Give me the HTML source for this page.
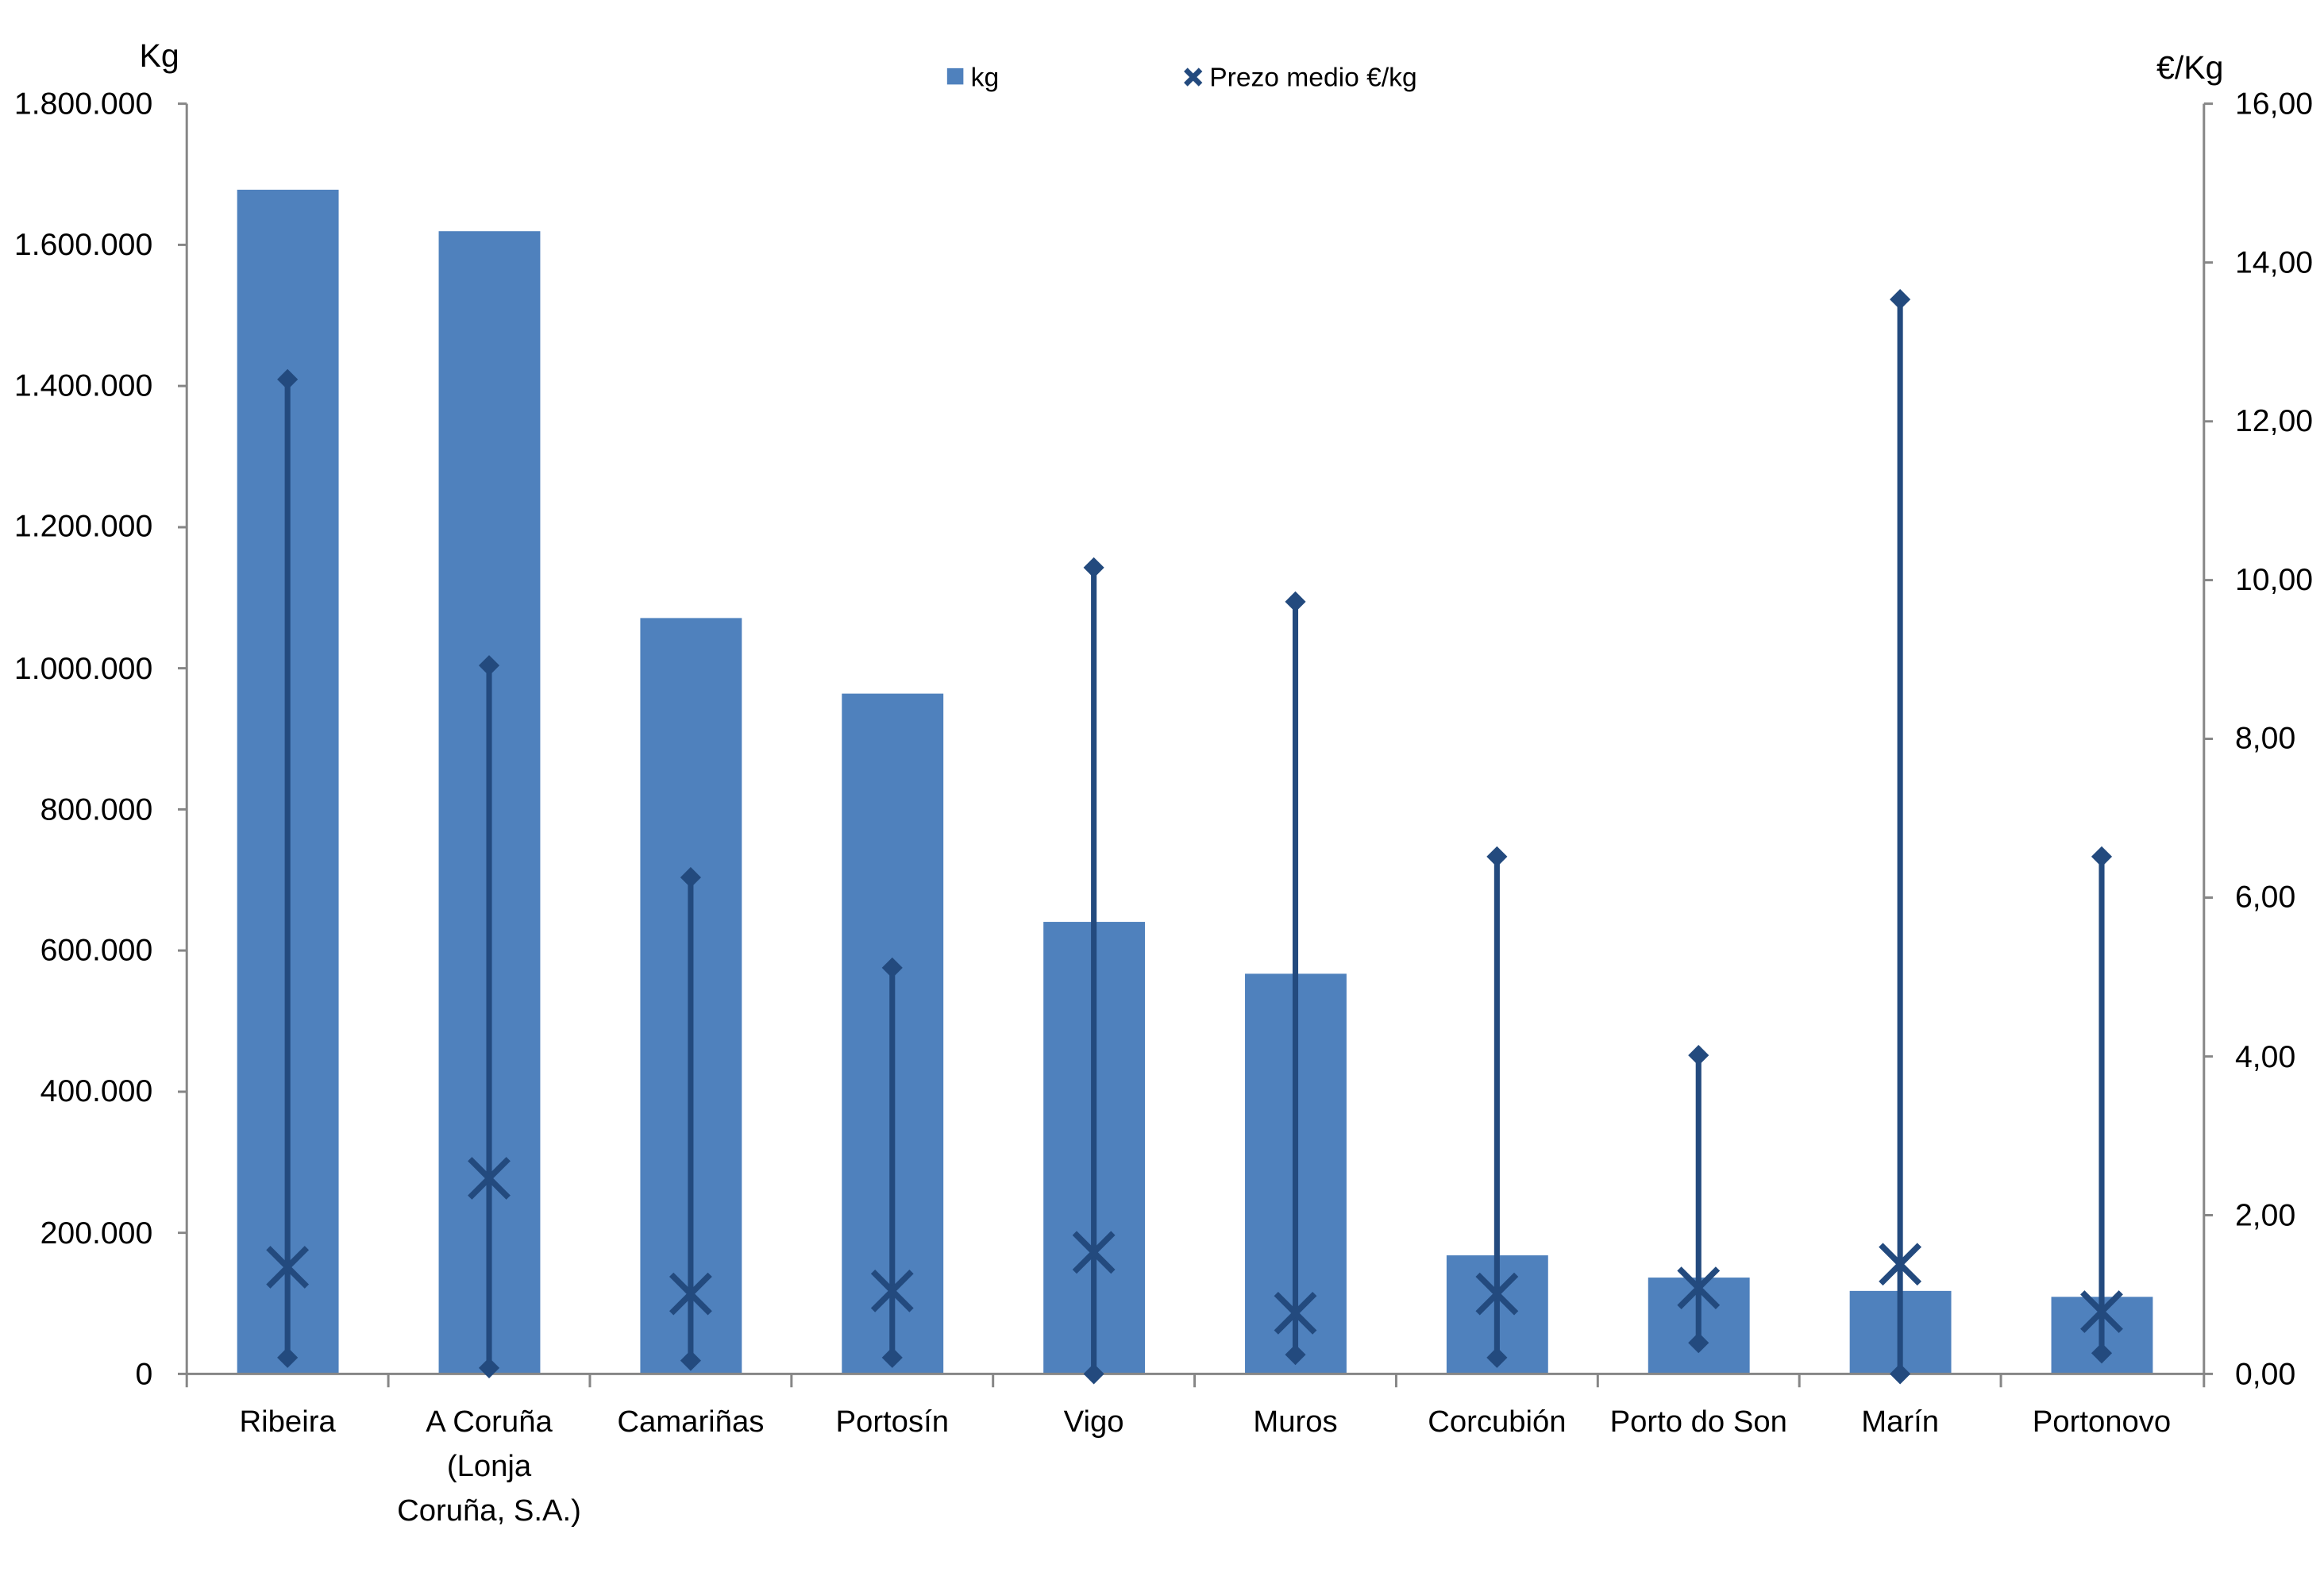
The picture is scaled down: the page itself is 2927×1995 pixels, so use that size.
<!DOCTYPE html>
<html><head><meta charset="utf-8"><style>
html,body{margin:0;padding:0;background:#fff;}
svg{display:block;}
text{font-family:"Liberation Sans",sans-serif;fill:#000;}
</style></head><body>
<svg width="2927" height="1995" viewBox="0 0 1568 1068.75" preserveAspectRatio="none" xmlns="http://www.w3.org/2000/svg">
<rect width="1568" height="1068.75" fill="#fff"/>
<g fill="#4f81bd">
<rect x="160" y="128" width="68.5" height="799"/>
<rect x="296" y="156" width="68.5" height="771"/>
<rect x="432" y="417" width="68.5" height="510"/>
<rect x="568" y="468" width="68.5" height="459"/>
<rect x="704" y="622" width="68.5" height="305"/>
<rect x="840" y="657" width="68.5" height="270"/>
<rect x="976" y="847" width="68.5" height="80"/>
<rect x="1112" y="862" width="68.5" height="65"/>
<rect x="1248" y="871" width="68.5" height="56"/>
<rect x="1384" y="875" width="68.5" height="52"/>
</g>
<g stroke="#868686" stroke-width="1.6" fill="none">
<line x1="126" y1="70" x2="126" y2="927"/>
<line x1="1487" y1="70" x2="1487" y2="927"/>
<line x1="120" y1="927" x2="1493" y2="927"/>
<path d="M120 70H126M120 165.2H126M120 260.4H126M120 355.7H126M120 450.9H126M120 546.1H126M120 641.3H126M120 736.6H126M120 831.8H126"/>
<path d="M1487 70H1493M1487 177.1H1493M1487 284.3H1493M1487 391.4H1493M1487 498.5H1493M1487 605.6H1493M1487 712.8H1493M1487 819.9H1493"/>
<path d="M126 927V936M262 927V936M398 927V936M534 927V936M670 927V936M806 927V936M942 927V936M1078 927V936M1214 927V936M1350 927V936M1487 927V936"/>
</g>
<g stroke="#234a7e" fill="#234a7e">
<g stroke-width="3.8">
<line x1="194" y1="256" x2="194" y2="916"/>
<line x1="330" y1="449" x2="330" y2="922"/>
<line x1="466" y1="592" x2="466" y2="918"/>
<line x1="602" y1="653" x2="602" y2="916"/>
<line x1="738" y1="383" x2="738" y2="925"/>
<line x1="874" y1="406" x2="874" y2="914"/>
<line x1="1010" y1="578" x2="1010" y2="916"/>
<line x1="1146" y1="712" x2="1146" y2="906"/>
<line x1="1282" y1="202" x2="1282" y2="925"/>
<line x1="1418" y1="578" x2="1418" y2="913"/>
</g>
<g stroke="none">
<path d="M194 249l7 7-7 7-7-7zM194 909l7 7-7 7-7-7z"/>
<path d="M330 442l7 7-7 7-7-7zM330 916l7 7-7 7-7-7z"/>
<path d="M466 585l7 7-7 7-7-7zM466 911l7 7-7 7-7-7z"/>
<path d="M602 646l7 7-7 7-7-7zM602 909l7 7-7 7-7-7z"/>
<path d="M738 376l7 7-7 7-7-7zM738 920l7 7-7 7-7-7z"/>
<path d="M874 399l7 7-7 7-7-7zM874 907l7 7-7 7-7-7z"/>
<path d="M1010 571l7 7-7 7-7-7zM1010 909l7 7-7 7-7-7z"/>
<path d="M1146 705l7 7-7 7-7-7zM1146 899l7 7-7 7-7-7z"/>
<path d="M1282 195l7 7-7 7-7-7zM1282 920l7 7-7 7-7-7z"/>
<path d="M1418 571l7 7-7 7-7-7zM1418 906l7 7-7 7-7-7z"/>
</g>
<g stroke-width="4" fill="none">
<path d="M181 842l26 26M207 842l-26 26"/>
<path d="M317 782l26 26M343 782l-26 26"/>
<path d="M453 860l26 26M479 860l-26 26"/>
<path d="M589 858l26 26M615 858l-26 26"/>
<path d="M725 832l26 26M751 832l-26 26"/>
<path d="M861 873l26 26M887 873l-26 26"/>
<path d="M997 860l26 26M1023 860l-26 26"/>
<path d="M1133 856l26 26M1159 856l-26 26"/>
<path d="M1269 840l26 26M1295 840l-26 26"/>
<path d="M1405 872l26 26M1431 872l-26 26"/>
</g>
</g>
<g font-size="21" text-anchor="end">
<text x="103" y="77">1.800.000</text>
<text x="103" y="172">1.600.000</text>
<text x="103" y="267">1.400.000</text>
<text x="103" y="362">1.200.000</text>
<text x="103" y="458">1.000.000</text>
<text x="103" y="553">800.000</text>
<text x="103" y="648">600.000</text>
<text x="103" y="743">400.000</text>
<text x="103" y="839">200.000</text>
<text x="103" y="934">0</text>
</g>
<g font-size="21">
<text x="1508" y="77">16,00</text>
<text x="1508" y="184">14,00</text>
<text x="1508" y="291">12,00</text>
<text x="1508" y="398">10,00</text>
<text x="1508" y="505">8,00</text>
<text x="1508" y="612">6,00</text>
<text x="1508" y="720">4,00</text>
<text x="1508" y="827">2,00</text>
<text x="1508" y="934">0,00</text>
</g>
<g font-size="20.5" text-anchor="middle">
<text x="194" y="966">Ribeira</text>
<text x="330" y="966">A Coruña</text>
<text x="330" y="996">(Lonja</text>
<text x="330" y="1026">Coruña, S.A.)</text>
<text x="466" y="966">Camariñas</text>
<text x="602" y="966">Portosín</text>
<text x="738" y="966">Vigo</text>
<text x="874" y="966">Muros</text>
<text x="1010" y="966">Corcubión</text>
<text x="1146" y="966">Porto do Son</text>
<text x="1282" y="966">Marín</text>
<text x="1418" y="966">Portonovo</text>
</g>
<text x="94" y="45" font-size="22">Kg</text>
<text x="1455" y="53" font-size="22">€/Kg</text>
<rect x="639" y="46" width="11" height="11" fill="#4f81bd"/>
<text x="655" y="58" font-size="18">kg</text>
<path d="M800 47l10 10M810 47l-10 10" stroke="#234a7e" stroke-width="3.5"/>
<text x="816" y="58" font-size="18">Prezo medio €/kg</text>
</svg>
</body></html>
